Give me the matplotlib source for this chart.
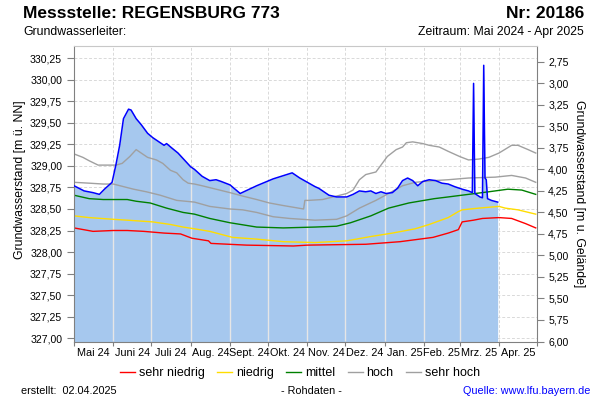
import numpy as np
import pandas as pd
import matplotlib
matplotlib.use("Agg")
from matplotlib import pyplot as plt
from matplotlib.ticker import FuncFormatter

plt.rcParams["font.family"] = ["Liberation Sans", "DejaVu Sans"]

GROUND = 332.96
Y_MIN, Y_MAX = 326.96, 330.40

# measured water level (Rohdaten)
mess_dates = ["2024-05-01", "2024-05-09", "2024-05-16", "2024-05-21", "2024-05-25", "2024-05-31",
              "2024-06-03", "2024-06-06", "2024-06-09", "2024-06-13", "2024-06-15", "2024-06-19",
              "2024-06-23", "2024-06-28", "2024-07-02", "2024-07-07", "2024-07-11", "2024-07-13",
              "2024-07-17", "2024-07-22", "2024-07-27", "2024-08-01", "2024-08-04", "2024-08-10",
              "2024-08-16", "2024-08-21", "2024-08-25", "2024-09-01", "2024-09-05", "2024-09-09",
              "2024-09-22", "2024-10-05", "2024-10-20", "2024-10-26", "2024-11-01", "2024-11-07",
              "2024-11-10", "2024-11-18", "2024-11-24", "2024-12-02", "2024-12-07", "2024-12-12",
              "2024-12-17", "2024-12-21", "2024-12-25", "2024-12-29", "2025-01-02", "2025-01-07",
              "2025-01-11", "2025-01-15", "2025-01-19", "2025-01-23", "2025-01-27", "2025-01-31",
              "2025-02-05", "2025-02-10", "2025-02-15", "2025-02-20", "2025-02-25", "2025-03-03",
              "2025-03-08", "2025-03-11", "2025-03-12", "2025-03-13", "2025-03-17", "2025-03-19",
              "2025-03-20", "2025-03-21", "2025-03-22", "2025-03-23", "2025-03-26", "2025-03-31"]
mess_vals = [328.77, 328.71, 328.69, 328.67, 328.73, 328.81,
             329.01, 329.24, 329.55, 329.66, 329.65, 329.55,
             329.48, 329.38, 329.33, 329.28, 329.24, 329.26,
             329.21, 329.15, 329.07, 328.99, 328.96, 328.88,
             328.83, 328.84, 328.82, 328.78, 328.73, 328.68,
             328.77, 328.85, 328.92, 328.86, 328.81, 328.76,
             328.74, 328.66, 328.64, 328.64, 328.67, 328.71,
             328.70, 328.71, 328.68, 328.70, 328.68, 328.69,
             328.74, 328.83, 328.86, 328.83, 328.77, 328.82,
             328.84, 328.83, 328.80, 328.79, 328.76, 328.73,
             328.71, 328.69, 329.96, 328.68, 328.64, 328.63,
             330.17, 328.86, 328.84, 328.62, 328.60, 328.58]

# statistical reference curves
sh_dates = ["2024-05-01", "2024-05-08", "2024-05-13", "2024-05-20", "2024-06-03", "2024-06-08",
            "2024-06-14", "2024-06-19", "2024-06-23", "2024-06-28", "2024-07-05", "2024-07-10",
            "2024-07-16", "2024-07-21", "2024-07-26", "2024-07-30", "2024-08-04", "2024-08-10",
            "2024-08-21", "2024-09-01", "2024-09-11", "2024-09-22", "2024-10-02", "2024-10-13",
            "2024-10-21", "2024-10-29", "2024-10-30", "2024-11-02", "2024-11-13", "2024-11-24",
            "2024-12-02", "2024-12-07", "2024-12-12", "2024-12-17", "2024-12-25", "2024-12-29",
            "2025-01-03", "2025-01-10", "2025-01-15", "2025-01-18", "2025-01-23", "2025-01-31",
            "2025-02-05", "2025-02-13", "2025-02-20", "2025-03-01", "2025-03-08", "2025-03-16",
            "2025-03-24", "2025-04-01", "2025-04-11", "2025-04-16", "2025-04-24", "2025-04-30"]
sh_vals = [329.14, 329.10, 329.06, 329.01, 329.01, 329.03,
           329.11, 329.19, 329.15, 329.10, 329.07, 329.03,
           328.95, 328.92, 328.84, 328.80, 328.79, 328.77,
           328.73, 328.69, 328.65, 328.61, 328.57, 328.54,
           328.52, 328.50, 328.60, 328.60, 328.61, 328.65,
           328.68, 328.72, 328.84, 328.90, 328.93, 329.01,
           329.11, 329.19, 329.22, 329.27, 329.28, 329.26,
           329.24, 329.22, 329.17, 329.11, 329.07, 329.08,
           329.10, 329.15, 329.24, 329.24, 329.19, 329.15]

hoch_dates = ["2024-05-01", "2024-05-13", "2024-05-24", "2024-06-01", "2024-06-17", "2024-06-27",
              "2024-07-08", "2024-07-21", "2024-08-04", "2024-08-16", "2024-09-01", "2024-09-11",
              "2024-09-22", "2024-10-05", "2024-10-18", "2024-11-07", "2024-11-24", "2024-12-02",
              "2024-12-12", "2024-12-25", "2025-01-04", "2025-01-15", "2025-01-25", "2025-02-09",
              "2025-02-20", "2025-03-08", "2025-03-29", "2025-04-11", "2025-04-22", "2025-04-30"]
hoch_vals = [328.81, 328.80, 328.79, 328.79, 328.73, 328.70,
             328.66, 328.60, 328.58, 328.53, 328.50, 328.49,
             328.46, 328.41, 328.39, 328.37, 328.38, 328.42,
             328.51, 328.60, 328.68, 328.77, 328.81, 328.83,
             328.84, 328.86, 328.87, 328.89, 328.86, 328.81]

mittel_dates = ["2024-05-01", "2024-05-13", "2024-05-24", "2024-06-12", "2024-06-19", "2024-06-30",
                "2024-07-13", "2024-07-26", "2024-08-04", "2024-08-16", "2024-09-01", "2024-09-22",
                "2024-10-13", "2024-11-07", "2024-11-24", "2024-12-05", "2024-12-21", "2025-01-04",
                "2025-01-20", "2025-02-09", "2025-02-20", "2025-03-08", "2025-03-24", "2025-04-08",
                "2025-04-19", "2025-04-30"]
mittel_vals = [328.66, 328.62, 328.61, 328.61, 328.59, 328.57,
               328.51, 328.46, 328.44, 328.39, 328.34, 328.29,
               328.28, 328.29, 328.30, 328.34, 328.42, 328.51,
               328.57, 328.62, 328.64, 328.67, 328.70, 328.73,
               328.72, 328.67]

niedrig_dates = ["2024-05-01", "2024-05-13", "2024-06-01", "2024-06-12", "2024-07-02", "2024-07-16",
                 "2024-07-26", "2024-08-04", "2024-08-16", "2024-09-03", "2024-09-22", "2024-10-13",
                 "2024-11-07", "2024-12-02", "2024-12-21", "2025-01-07", "2025-01-25", "2025-02-05",
                 "2025-02-20", "2025-02-28", "2025-03-03", "2025-03-16", "2025-04-01", "2025-04-06",
                 "2025-04-16", "2025-04-30"]
niedrig_vals = [328.42, 328.40, 328.38, 328.37, 328.35, 328.32,
                328.29, 328.27, 328.24, 328.17, 328.15, 328.12,
                328.11, 328.13, 328.18, 328.22, 328.27, 328.32,
                328.40, 328.47, 328.49, 328.51, 328.53, 328.51,
                328.49, 328.44]

sn_dates = ["2024-05-01", "2024-05-16", "2024-06-01", "2024-06-12", "2024-06-25", "2024-07-11",
            "2024-07-24", "2024-08-02", "2024-08-15", "2024-08-17", "2024-09-14", "2024-10-21",
            "2024-11-01", "2024-12-17", "2025-01-13", "2025-02-08", "2025-02-20", "2025-02-28",
            "2025-03-03", "2025-03-12", "2025-03-19", "2025-04-01", "2025-04-11", "2025-04-22",
            "2025-04-30"]
sn_vals = [328.28, 328.24, 328.25, 328.25, 328.24, 328.22,
           328.21, 328.16, 328.13, 328.10, 328.08, 328.07,
           328.08, 328.09, 328.12, 328.17, 328.22, 328.26,
           328.35, 328.37, 328.39, 328.40, 328.39, 328.33,
           328.28]

month_labels = ["Mai 24", "Juni 24", "Juli 24", "Aug. 24", "Sept. 24", "Okt. 24",
                "Nov. 24", "Dez. 24", "Jan. 25", "Feb. 25", "Mrz. 25", "Apr. 25"]

month_starts = pd.date_range("2024-05-01", "2025-05-01", freq="MS")
month_mids = month_starts[:-1] + (month_starts[1:] - month_starts[:-1]) / 2

fig = plt.figure(figsize=(6, 4), dpi=100)
ax = fig.add_axes([74 / 600, 1 - 341.5 / 400, (537 - 74) / 600, (341.5 - 45.5) / 400])

GRID = "#d9d9d9"
ax.set_axisbelow(True)
ax.grid(True, color=GRID, linestyle=(0, (3, 2)), linewidth=0.7)

md = pd.to_datetime(mess_dates)
fill = ax.fill_between(md, mess_vals, Y_MIN, color="#a6c8ee", linewidth=0, zorder=1)

# solid light grid lines visible inside the filled area
vl = ax.vlines(month_starts[1:-1], Y_MIN, Y_MAX, colors="#e6e6e6", linewidth=1.0, zorder=1.5)
vl.set_clip_path(fill.get_paths()[0], ax.transData)

ax.plot(pd.to_datetime(sh_dates), sh_vals, color="#a0a0a0", lw=1.0, zorder=2, label="sehr hoch")
ax.plot(pd.to_datetime(hoch_dates), hoch_vals, color="#a0a0a0", lw=1.0, zorder=2, label="hoch")
ax.plot(pd.to_datetime(mittel_dates), mittel_vals, color="#008000", lw=1.0, zorder=2, label="mittel")
ax.plot(pd.to_datetime(niedrig_dates), niedrig_vals, color="#ffdd00", lw=1.0, zorder=2, label="niedrig")
ax.plot(pd.to_datetime(sn_dates), sn_vals, color="#ff0000", lw=1.0, zorder=2, label="sehr niedrig")
ax.plot(md, mess_vals, color="#0000ff", lw=1.1, zorder=3)

ax.set_xlim(month_starts[0], month_starts[-1])
ax.set_ylim(Y_MIN, Y_MAX)
ax.set_yticks(np.arange(327.0, 330.26, 0.25))
comma = FuncFormatter(lambda v, p: f"{v:.2f}".replace(".", ","))
ax.yaxis.set_major_formatter(comma)

ax.set_xticks(month_starts)
ax.set_xticklabels([])
ax.set_xticks(month_mids, minor=True)
ax.set_xticklabels(month_labels, minor=True)
ax.xaxis.grid(True, which="major")
ax.xaxis.grid(False, which="minor")
ax.tick_params(axis="x", which="major", length=3, color="#808080")
ax.tick_params(axis="x", which="minor", length=0, pad=5, labelsize=7.8)
ax.tick_params(axis="y", length=5, color="#808080", labelsize=7.6, pad=3.5)

for side in ["left", "bottom", "right"]:
    ax.spines[side].set_color("#808080")
ax.spines["top"].set_color("#c8c8c8")

ax2 = ax.twinx()
ax2.set_ylim(GROUND - Y_MIN, GROUND - Y_MAX)
ax2.set_yticks(np.arange(2.75, 6.01, 0.25))
ax2.yaxis.set_major_formatter(comma)
ax2.tick_params(axis="y", length=5, color="#808080", labelsize=7.6, pad=3)
for s in ax2.spines.values():
    s.set_visible(False)

fig.text(23 / 600, 1 - 14 / 400, "Messstelle: REGENSBURG 773", fontsize=12.5, fontweight="bold",
         ha="left", va="center")
fig.text(584 / 600, 1 - 14 / 400, "Nr: 20186", fontsize=12.5, fontweight="bold", ha="right", va="center")
fig.text(23 / 600, 1 - 32 / 400, "Grundwasserleiter:", fontsize=8.8, ha="left", va="center")
fig.text(584 / 600, 1 - 32 / 400, "Zeitraum: Mai 2024 - Apr 2025", fontsize=8.8, ha="right", va="center")
fig.text(20 / 600, 1 - 180 / 400, "Grundwasserstand [m ü. NN]", fontsize=8.8, rotation=90,
         ha="center", va="center")
fig.text(579 / 600, 1 - 194 / 400, "Grundwasserstand [m u. Gelände]", fontsize=8.8, rotation=270,
         ha="center", va="center")

order = ["sehr niedrig", "niedrig", "mittel", "hoch", "sehr hoch"]
hl = {l.get_label(): l for l in ax.get_lines()}
fig.legend([hl[k] for k in order], order, loc="center", bbox_to_anchor=(0.5, 1 - 373 / 400), ncol=5,
           frameon=False, fontsize=9, handlelength=1.2, handletextpad=0.3, columnspacing=1.0)

fig.text(21 / 600, 1 - 391 / 400, "erstellt:  02.04.2025", fontsize=7.8, ha="left", va="center")
fig.text(311 / 600, 1 - 391 / 400, "- Rohdaten -", fontsize=7.8, ha="center", va="center")
fig.text(590 / 600, 1 - 391 / 400, "Quelle: www.lfu.bayern.de", fontsize=7.8, color="#0000ff",
         ha="right", va="center")

fig.savefig("out.png", dpi=100)
